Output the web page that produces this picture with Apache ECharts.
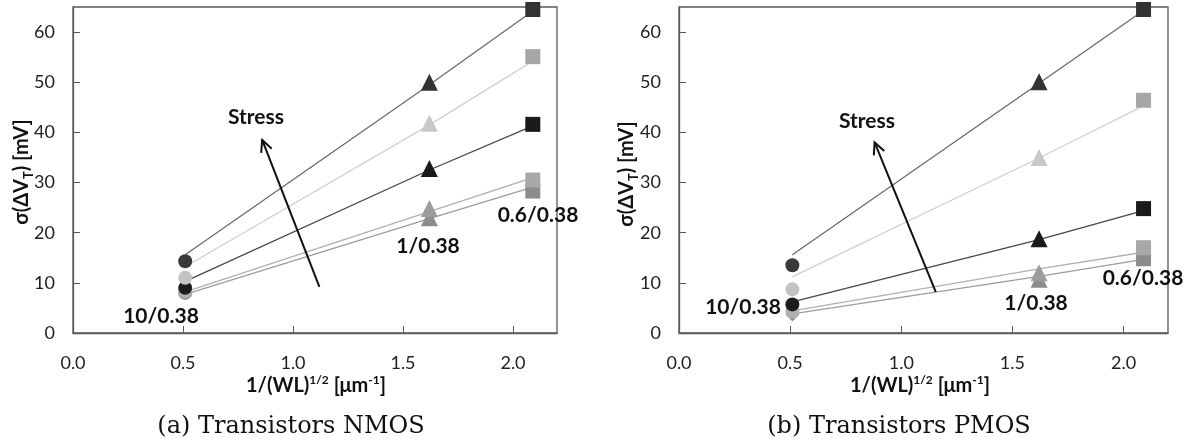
<!DOCTYPE html>
<html><head><meta charset="utf-8">
<script src="https://cdn.jsdelivr.net/npm/echarts@6/dist/echarts.min.js"></script>
<style>html,body{margin:0;padding:0;background:#fff}#c{width:1194px;height:443px}</style>
</head><body><div id="c"></div>
<script>
// ---- data ----
const xValues = [0.51, 1.62, 2.09];           // 1/sqrt(WL) for 10/0.38, 1/0.38, 0.6/0.38
const markerSymbols = ['circle', 'triangle', 'rect'];
const xTicks = [0, 0.5, 1.0, 1.5, 2.0];
const yTicks = [0, 10, 20, 30, 40, 50, 60];
const sizeLabels = ['10/0.38', '1/0.38', '0.6/0.38'];

// NMOS measured points (stress levels A..E, top to bottom)
const nmosA = [14.3, 50.0, 64.5];
const nmosB = [11.0, 41.8, 55.1];
const nmosC = [9.0, 32.8, 41.6];
const nmosD = [8.3, 24.8, 30.5];
const nmosE = [8.0, 23.0, 28.3];
// NMOS trend lines
const nmosFitA = [15.6, 49.5, 64.2];
const nmosFitB = [13.2, 41.5, 54.2];
const nmosFitC = [10.3, 32.5, 41.3];
const nmosFitD = [8.2, 24.2, 31.0];
const nmosFitE = [7.7, 22.8, 29.1];

// PMOS measured points
const pmosA = [13.5, 50.1, 64.5];
const pmosB = [8.7, 35.0, 46.4];
const pmosC = [5.7, 18.8, 24.8];
const pmosD = [4.3, 12.0, 17.0];
const pmosE = [3.7, 10.7, 14.8];
// PMOS trend lines
const pmosFitA = [15.6, 49.8, 64.3];
const pmosFitB = [11.2, 34.9, 45.3];
const pmosFitC = [6.2, 18.6, 24.4];
const pmosFitD = [4.4, 12.8, 16.1];
const pmosFitE = [3.8, 11.3, 14.7];

// ---- styles ----
const markerColors = [
  ['#3a3a3a', '#333333', '#333333'],
  ['#c3c3c3', '#c8c8c8', '#a6a6a6'],
  ['#1c1c1c', '#1a1a1a', '#1a1a1a'],
  ['#b0b0b0', '#9c9c9c', '#a8a8a8'],
  ['#909090', '#8c8c8c', '#8c8c8c']
];
const lineColors = ['#6b6b6b', '#d0d0d0', '#474747', '#b0b0b0', '#9c9c9c'];
const symbolSizes = [14, 17, 15];
const FONT = 'Lato';

function levelSeries(gridIndex, pts, fit, level, firstSymbol) {
  const scatter = {
    type: 'scatter', xAxisIndex: gridIndex, yAxisIndex: gridIndex, z: 3,
    data: pts.map((v, i) => ({
      value: [xValues[i], v],
      symbol: (i === 0 && firstSymbol) ? firstSymbol : markerSymbols[i],
      symbolSize: (i === 0 && firstSymbol) ? 14 : symbolSizes[i],
      itemStyle: { color: markerColors[level][i], opacity: 1 }
    }))
  };
  const line = {
    type: 'line', xAxisIndex: gridIndex, yAxisIndex: gridIndex, z: 2,
    showSymbol: false, symbol: 'none',
    lineStyle: { color: lineColors[level], width: 1.3 },
    data: fit.map((v, i) => [xValues[i], v])
  };
  return [line, scatter];
}

function xAxisCfg(gi) {
  return {
    type: 'value', gridIndex: gi, min: 0, max: 2.2,
    axisLine: { show: true, onZero: false, lineStyle: { color: '#595959', width: 1.3 } },
    axisTick: { show: true, inside: true, length: 7, customValues: xTicks, lineStyle: { color: '#595959' } },
    axisLabel: { customValues: xTicks, formatter: v => v.toFixed(1), margin: 21,
      fontSize: 18, fontFamily: FONT, color: '#222' },
    splitLine: { show: false }
  };
}
function yAxisCfg(gi) {
  return {
    type: 'value', gridIndex: gi, min: 0, max: 65,
    axisLine: { show: true, onZero: false, lineStyle: { color: '#595959', width: 1.3 } },
    axisTick: { show: true, inside: true, length: 7, customValues: yTicks, lineStyle: { color: '#595959' } },
    axisLabel: { customValues: yTicks, margin: 18, fontSize: 18, fontFamily: FONT, color: '#222' },
    splitLine: { show: false }
  };
}

const series = [].concat(
  levelSeries(0, nmosE, nmosFitE, 4), levelSeries(0, nmosD, nmosFitD, 3),
  levelSeries(0, nmosC, nmosFitC, 2), levelSeries(0, nmosB, nmosFitB, 1),
  levelSeries(0, nmosA, nmosFitA, 0),
  levelSeries(1, pmosE, pmosFitE, 4, 'diamond'), levelSeries(1, pmosD, pmosFitD, 3),
  levelSeries(1, pmosC, pmosFitC, 2), levelSeries(1, pmosB, pmosFitB, 1),
  levelSeries(1, pmosA, pmosFitA, 0)
);

const option = {
  animation: false,
  backgroundColor: '#ffffff',
  grid: [
    { left: 73, top: 7, width: 484, height: 326, show: true, borderColor: '#595959', borderWidth: 1.3, backgroundColor: 'transparent' },
    { left: 679, top: 7, width: 489, height: 326, show: true, borderColor: '#595959', borderWidth: 1.3, backgroundColor: 'transparent' }
  ],
  xAxis: [xAxisCfg(0), xAxisCfg(1)],
  yAxis: [yAxisCfg(0), yAxisCfg(1)],
  series: series
};

const chart = echarts.init(document.getElementById('c'), null, { renderer: 'canvas' });
chart.setOption(option);

function txt(text, x, y, size, bold, extra) {
  return Object.assign({
    type: 'text', x: x, y: y, z: 10,
    style: { text: text, fontSize: size, fontFamily: FONT, fontWeight: bold ? 'bold' : 'normal',
      fill: '#111', align: 'center', verticalAlign: 'middle' }
  }, extra || {});
}
const xTitle = '{a|1/(WL)}{s|1/2}{a| [μm}{s|-1}{a|]}';
const xTitleRich = {
  a: { fontSize: 20, fontFamily: FONT, fontWeight: 'bold', lineHeight: 24, fill: '#111' },
  s: { fontSize: 12, fontFamily: FONT, fontWeight: 'bold', lineHeight: 12, verticalAlign: 'top', fill: '#111' }
};
const yTitle = '{a|σ(ΔV}{b|T}{a|) [mV]}';
const yTitleRich = {
  a: { fontSize: 20, fontFamily: FONT, fontWeight: 'bold', lineHeight: 26, fill: '#111' },
  b: { fontSize: 13, fontFamily: FONT, fontWeight: 'bold', lineHeight: 13, verticalAlign: 'bottom', fill: '#111' }
};
function richText(text, rich, x, y, rot) {
  return { type: 'text', x: x, y: y, rotation: rot || 0, z: 10,
    style: { text: text, rich: rich, align: 'center', verticalAlign: 'middle', fill: '#111' } };
}
function arrow(gi, from, to) {
  const p0 = chart.convertToPixel({ gridIndex: gi }, from);
  const p1 = chart.convertToPixel({ gridIndex: gi }, to);
  const ang = Math.atan2(p1[1] - p0[1], p1[0] - p0[0]);
  const L = 13, a = 0.45;
  const h1 = [p1[0] - L * Math.cos(ang - a), p1[1] - L * Math.sin(ang - a)];
  const h2 = [p1[0] - L * Math.cos(ang + a), p1[1] - L * Math.sin(ang + a)];
  return [
    { type: 'polyline', z: 10, shape: { points: [p0, p1] }, style: { stroke: '#111', lineWidth: 2, fill: null } },
    { type: 'polyline', z: 10, shape: { points: [h1, p1, h2] }, style: { stroke: '#111', lineWidth: 2, fill: null } }
  ];
}
const captionStyle = { fontFamily: 'DejaVu Serif', fontWeight: 'normal' };
const graphics = [
  txt(sizeLabels[0], 161, 316, 21, true), txt(sizeLabels[1], 428, 246, 21, true), txt(sizeLabels[2], 538, 215, 21, true),
  txt('Stress', 256, 117, 21, true),
  txt(sizeLabels[0], 743, 307, 21, true), txt(sizeLabels[1], 1036, 303, 21, true), txt(sizeLabels[2], 1143, 278, 21, true),
  txt('Stress', 867, 121, 21, true),
  richText(xTitle, xTitleRich, 316, 386), richText(xTitle, xTitleRich, 920, 386),
  richText(yTitle, yTitleRich, 22, 172, Math.PI / 2), richText(yTitle, yTitleRich, 627, 174, Math.PI / 2),
  { type: 'text', x: 291, y: 427, style: Object.assign({ text: '(a) Transistors NMOS', fontSize: 24, fill: '#111', align: 'center', verticalAlign: 'middle' }, captionStyle) },
  { type: 'text', x: 899, y: 427, style: Object.assign({ text: '(b) Transistors PMOS', fontSize: 24, fill: '#111', align: 'center', verticalAlign: 'middle' }, captionStyle) }
].concat(arrow(0, [1.12, 9.2], [0.86, 38.5]), arrow(1, [1.155, 8.2], [0.88, 38.0]));

chart.setOption({ graphic: graphics });
</script>
</body></html>
